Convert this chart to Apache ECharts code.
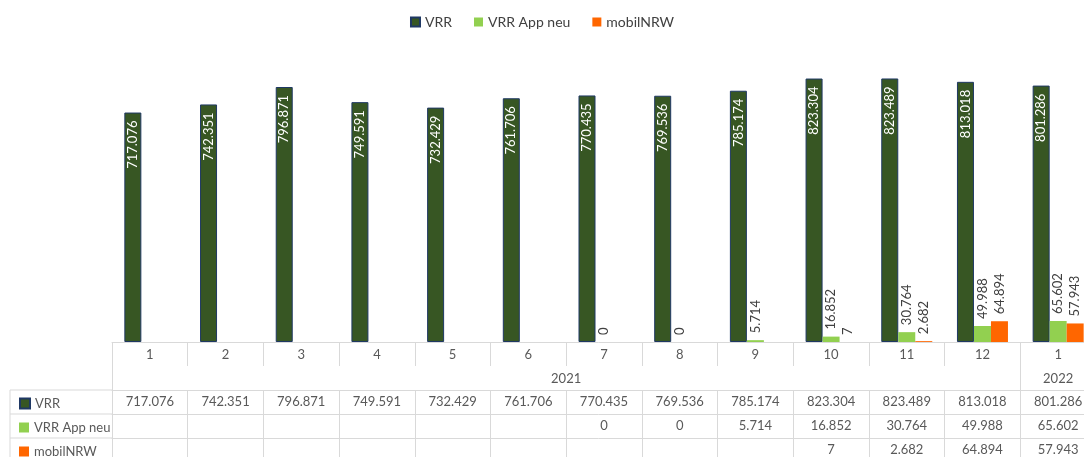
<!DOCTYPE html>
<html>
<head>
<meta charset="utf-8">
<script src="https://cdn.jsdelivr.net/npm/echarts@6/dist/echarts.min.js"></script>
<style>
  html, body { margin: 0; padding: 0; background: #fff; }
  #chart { width: 1084px; height: 457px; }
</style>
</head>
<body>
<div id="chart"></div>
<script>
// ---- Daten ----
const months = ['1', '2', '3', '4', '5', '6', '7', '8', '9', '10', '11', '12', '1'];
const yearLabels = ['2021', '2022'];
const yearSpans = [12, 1]; // Monate je Jahr
const seriesNames = ['VRR', 'VRR App neu', 'mobilNRW'];
const vrr = [717076, 742351, 796871, 749591, 732429, 761706, 770435, 769536, 785174, 823304, 823489, 813018, 801286];
const vrrAppNeu = [null, null, null, null, null, null, 0, 0, 5714, 16852, 30764, 49988, 65602];
const mobilNRW = [null, null, null, null, null, null, null, null, null, 7, 2682, 64894, 57943];

// ---- Layout ----
const GRID_LEFT = 112;
const GRID_BOTTOM_Y = 342;
const ROW_H = 24;
const LINE = '#d9d9d9';
const TXT = '#595959';
const FONT = 'Lato, "Open Sans", sans-serif';
const COLORS = { vrr: '#375623', app: '#92d050', mobil: '#ff6600' };

// Tausenderpunkt wie im Original
const fmt = v => (v == null ? '' : String(v).replace(/\B(?=(\d{3})+(?!\d))/g, '.'));

// Mitte jedes Jahres auf der Monatsachse
const yearCenters = [];
const yearBounds = [0];
let acc = 0;
yearSpans.forEach(s => { yearCenters.push(acc + s / 2); acc += s; yearBounds.push(acc); });

const chart = echarts.init(document.getElementById('chart'));

// Tabellenzeile als eigene Kategorieachse unter dem Diagramm
const rowAxis = (data, offset) => ({
  type: 'category',
  data: data.map(fmt),
  position: 'bottom',
  offset: offset,
  axisLine: { show: true, lineStyle: { color: LINE, width: 1 } },
  axisTick: { show: true, length: ROW_H, lineStyle: { color: LINE } },
  axisLabel: { interval: 0, margin: 5, color: TXT, fontSize: 13, fontFamily: FONT },
  splitLine: { show: false }
});

// Legende je Tabellenzeile (links)
const rowLegend = (name, i) => ({
  left: 14,
  top: GRID_BOTTOM_Y + ROW_H * (2 + i) + 2,
  selectedMode: false,
  itemWidth: 10,
  itemHeight: 10,
  itemGap: 0,
  icon: 'rect',
  textStyle: { color: TXT, fontSize: 13, fontFamily: FONT },
  data: [name]
});

const valueLabel = {
  show: true,
  position: 'top',
  rotate: 90,
  align: 'left',
  verticalAlign: 'middle',
  distance: 7,
  color: '#404040',
  fontSize: 13,
  fontFamily: FONT,
  formatter: p => fmt(p.value)
};

const option = {
  animation: false,
  backgroundColor: '#fff',
  legend: [
    {
      top: 10,
      left: 'center',
      selectedMode: false,
      itemWidth: 9,
      itemHeight: 9,
      itemGap: 22,
      icon: 'rect',
      textStyle: { color: '#404040', fontSize: 14, fontFamily: FONT },
      data: seriesNames
    },
    ...seriesNames.map(rowLegend)
  ],
  grid: {
    left: GRID_LEFT,
    right: -12,
    top: 54,
    bottom: 457 - GRID_BOTTOM_Y,
    outerBoundsMode: 'none',
    containLabel: false
  },
  xAxis: [
    {
      type: 'category',
      data: months,
      position: 'bottom',
      axisLine: { show: true, lineStyle: { color: LINE, width: 1 } },
      axisTick: { show: true, length: ROW_H, lineStyle: { color: LINE } },
      axisLabel: { interval: 0, margin: 6, color: TXT, fontSize: 13, fontFamily: FONT },
      splitLine: { show: false }
    },
    {
      type: 'value',
      min: 0,
      max: months.length,
      position: 'bottom',
      offset: ROW_H,
      axisLine: { show: false },
      axisTick: { show: true, length: ROW_H, customValues: yearBounds, lineStyle: { color: LINE } },
      axisLabel: {
        show: true,
        margin: 6,
        color: TXT,
        fontSize: 13,
        fontFamily: FONT,
        customValues: yearCenters,
        formatter: v => {
          const i = yearCenters.findIndex(c => Math.abs(c - v) < 1e-6);
          return i >= 0 ? yearLabels[i] : '';
        }
      },
      splitLine: { show: false }
    },
    rowAxis(vrr, ROW_H * 2),
    rowAxis(vrrAppNeu, ROW_H * 3),
    rowAxis(mobilNRW, ROW_H * 4)
  ],
  yAxis: {
    type: 'value',
    min: 0,
    max: 900000,
    show: false,
    splitLine: { show: false }
  },
  series: [
    {
      name: 'VRR',
      type: 'bar',
      data: vrr,
      barWidth: 17,
      barGap: '0%',
      itemStyle: { color: COLORS.vrr, borderColor: '#1f3864', borderWidth: 1 },
      label: {
        show: true,
        position: 'insideTop',
        rotate: 90,
        align: 'right',
        verticalAlign: 'middle',
        distance: 8,
        color: '#ffffff',
        fontSize: 13,
        fontFamily: FONT,
        formatter: p => fmt(p.value)
      }
    },
    {
      name: 'VRR App neu',
      type: 'bar',
      data: vrrAppNeu,
      barWidth: 17,
      barGap: '0%',
      itemStyle: { color: COLORS.app },
      label: valueLabel
    },
    {
      name: 'mobilNRW',
      type: 'bar',
      data: mobilNRW,
      barWidth: 17,
      barGap: '0%',
      itemStyle: { color: COLORS.mobil },
      label: valueLabel
    }
  ],
  // Linien der Legendenspalte links neben der Tabelle
  graphic: [
    ...[2, 3, 4].map(r => ({
      type: 'line',
      silent: true,
      shape: { x1: 10, y1: GRID_BOTTOM_Y + ROW_H * r, x2: GRID_LEFT, y2: GRID_BOTTOM_Y + ROW_H * r },
      style: { stroke: LINE, lineWidth: 1 }
    })),
    {
      type: 'line',
      silent: true,
      shape: { x1: 10, y1: GRID_BOTTOM_Y + ROW_H * 2, x2: 10, y2: 457 },
      style: { stroke: LINE, lineWidth: 1 }
    }
  ]
};

chart.setOption(option);
window.addEventListener('resize', () => chart.resize());
</script>
</body>
</html>
